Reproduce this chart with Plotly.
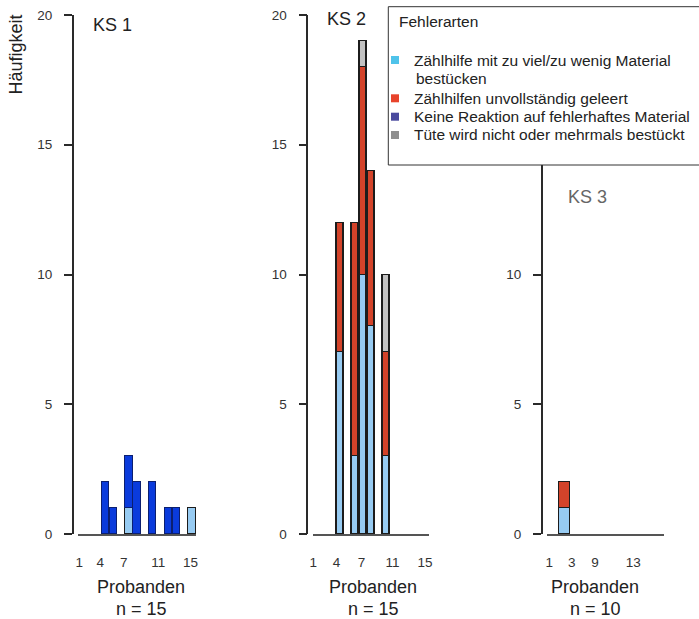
import plotly.graph_objects as go

# Frequencies of error types per participant, for three case studies (KS 1-3)
probanden_ks1 = list(range(1, 16))
ks1_zaehlhilfe_material = [0, 0, 0, 0, 0, 0, 1, 0, 0, 0, 0, 0, 0, 0, 1]
ks1_keine_reaktion = [0, 0, 0, 2, 1, 0, 2, 2, 0, 2, 0, 1, 1, 0, 0]

probanden_ks2 = list(range(1, 16))
ks2_zaehlhilfe_material = [0, 0, 0, 7, 0, 3, 10, 8, 0, 3, 0, 0, 0, 0, 0]
ks2_unvollstaendig_geleert = [0, 0, 0, 5, 0, 9, 8, 6, 0, 4, 0, 0, 0, 0, 0]
ks2_tuete = [0, 0, 0, 0, 0, 0, 1, 0, 0, 3, 0, 0, 0, 0, 0]

probanden_ks3 = list(range(1, 11))
ks3_zaehlhilfe_material = [0, 1, 0, 0, 0, 0, 0, 0, 0, 0]
ks3_unvollstaendig_geleert = [0, 1, 0, 0, 0, 0, 0, 0, 0, 0]

panel_titles = ["KS 1", "KS 2", "KS 3"]
panel_n = ["n = 15", "n = 15", "n = 10"]
x_ticktext_15 = ["1", "4", "7", "11", "15"]
x_ticktext_10 = ["1", "3", "9", "13"]
y_tickvals = [0, 5, 10, 15, 20]

legend_title = "Fehlerarten"
legend_labels = [
    "Zählhilfe mit zu viel/zu wenig Material",
    "Zählhilfen unvollständig geleert",
    "Keine Reaktion auf fehlerhaftes Material",
    "Tüte wird nicht oder mehrmals bestückt",
]
legend_colors = ["#4fc3ea", "#e8432b", "#4a4a9e", "#8f8f8f"]

W, H = 699, 619
FONT = "Liberation Sans, Arial, sans-serif"
LIGHT_BLUE = "#97cbf2"
DARK_BLUE = "#0a3bdc"
RED = "#d3432a"
GREY = "#c2c2c2"
EDGE = "#1c1c1c"


def px(x):
    return x / W


def py(y):
    return 1 - y / H


fig = go.Figure()


def add_bar(x, y, color, axis, edge=EDGE, width=0.94):
    # empty counts are left out so no flat outline is drawn on the baseline
    heights = [v if v else None for v in y]
    fig.add_trace(go.Bar(
        x=x, y=heights, width=width,
        marker=dict(color=color, line=dict(color=edge, width=1.2)),
        xaxis="x" + axis, yaxis="y" + axis, showlegend=False,
        hoverinfo="x+y",
    ))


add_bar(probanden_ks1, ks1_zaehlhilfe_material, LIGHT_BLUE, "")
add_bar(probanden_ks1, ks1_keine_reaktion, DARK_BLUE, "", edge="#0b1f70")
add_bar(probanden_ks2, ks2_zaehlhilfe_material, LIGHT_BLUE, "2")
add_bar(probanden_ks2, ks2_unvollstaendig_geleert, RED, "2")
add_bar(probanden_ks2, ks2_tuete, GREY, "2")
add_bar(probanden_ks3, ks3_zaehlhilfe_material, LIGHT_BLUE, "3", width=0.97)
add_bar(probanden_ks3, ks3_unvollstaendig_geleert, RED, "3", width=0.97)

ydom = [py(534), py(15)]
common = dict(showline=True, showgrid=False, zeroline=False, automargin=False,
              fixedrange=True)
tickfont = dict(family=FONT, size=13.5, color="#333333")


def yaxis(pos_px, tickvals):
    return dict(domain=ydom, range=[0, 20], anchor="free", position=px(pos_px),
                linecolor="#2a2a2a", linewidth=1.5,
                tickvals=tickvals, ticks="outside", ticklen=8, tickwidth=1.5,
                tickcolor="#2a2a2a", ticklabelstandoff=9, tickfont=tickfont,
                **common)


def xaxis(dom_px, rng, anchor, tickvals, ticktext):
    return dict(domain=[px(dom_px[0]), px(dom_px[1])], range=rng, anchor=anchor,
                linecolor="#555555", linewidth=2,
                tickvals=tickvals, ticktext=ticktext, ticks="",
                ticklabelstandoff=15, tickfont=tickfont, **common)


fig.update_layout(
    width=W, height=H, margin=dict(l=0, r=0, t=0, b=0, pad=0, autoexpand=False),
    paper_bgcolor="white", plot_bgcolor="white",
    barmode="stack", bargap=0,
    font=dict(family=FONT),
    showlegend=False,
    xaxis=xaxis((78, 196), [0.5, 15.5], "y", [0.67, 3.34, 6.31, 10.71, 14.8], x_ticktext_15),
    yaxis=yaxis(72.8, y_tickvals),
    xaxis2=xaxis((312.5, 429), [0.5, 15.5], "y2", [0.6, 3.6, 6.8, 10.8, 15.0], x_ticktext_15),
    yaxis2=yaxis(307.3, y_tickvals),
    xaxis3=xaxis((546.7, 664), [0.5, 10.5], "y3", [0.72, 2.63, 4.61, 7.88], x_ticktext_10),
    yaxis3=yaxis(541.7, y_tickvals[:3]),
)

annotations = []


def text(x, y, s, size=18, color="#222222", xanchor="center", angle=0):
    annotations.append(dict(
        x=px(x), y=py(y), xref="paper", yref="paper", text=s, showarrow=False,
        xanchor=xanchor, yanchor="middle", textangle=angle,
        font=dict(family=FONT, size=size, color=color),
    ))


text(15.5, 55, "Häufigkeit", size=18, angle=-90)
text(112.5, 25, panel_titles[0])
text(346.7, 19.3, panel_titles[1])
text(587, 197.3, panel_titles[2], color="#666666")

for cx, n in zip([141, 373, 595], panel_n):
    text(cx, 587, "Probanden")
    text(cx, 608.5, n)

# Legend box drawn on top of the third panel; it runs past the right edge,
# so only its left, top and bottom borders are drawn
box_l, box_t, box_b = 388.3, 6.7, 165
shapes = [dict(type="rect", xref="paper", yref="paper",
               x0=px(box_l), x1=1, y0=py(box_b), y1=py(box_t),
               fillcolor="white", line=dict(width=0), layer="above")]
border = dict(color="#333333", width=1)
for x0, y0, x1, y1 in [(box_l, box_t, box_l, box_b),
                       (box_l, box_t, W, box_t),
                       (box_l, box_b, W, box_b)]:
    shapes.append(dict(type="line", xref="paper", yref="paper",
                       x0=px(x0), y0=py(y0), x1=px(x1), y1=py(y1),
                       line=border, layer="above"))

text(396.7, 21.7, legend_title, size=15.5, xanchor="left")
legend_rows = [60, 98.3, 116.7, 135]
for label, color, ly in zip(legend_labels, legend_colors, legend_rows):
    shapes.append(dict(type="rect", xref="paper", yref="paper",
                       x0=px(391), x1=px(399), y0=py(ly + 4), y1=py(ly - 4),
                       fillcolor=color, line=dict(width=0), layer="above"))
    text(412.3, ly, label, size=15.5, xanchor="left")
text(414, 79, "bestücken", size=15.5, xanchor="left")

fig.update_layout(annotations=annotations, shapes=shapes)
fig.write_html("out.html")
